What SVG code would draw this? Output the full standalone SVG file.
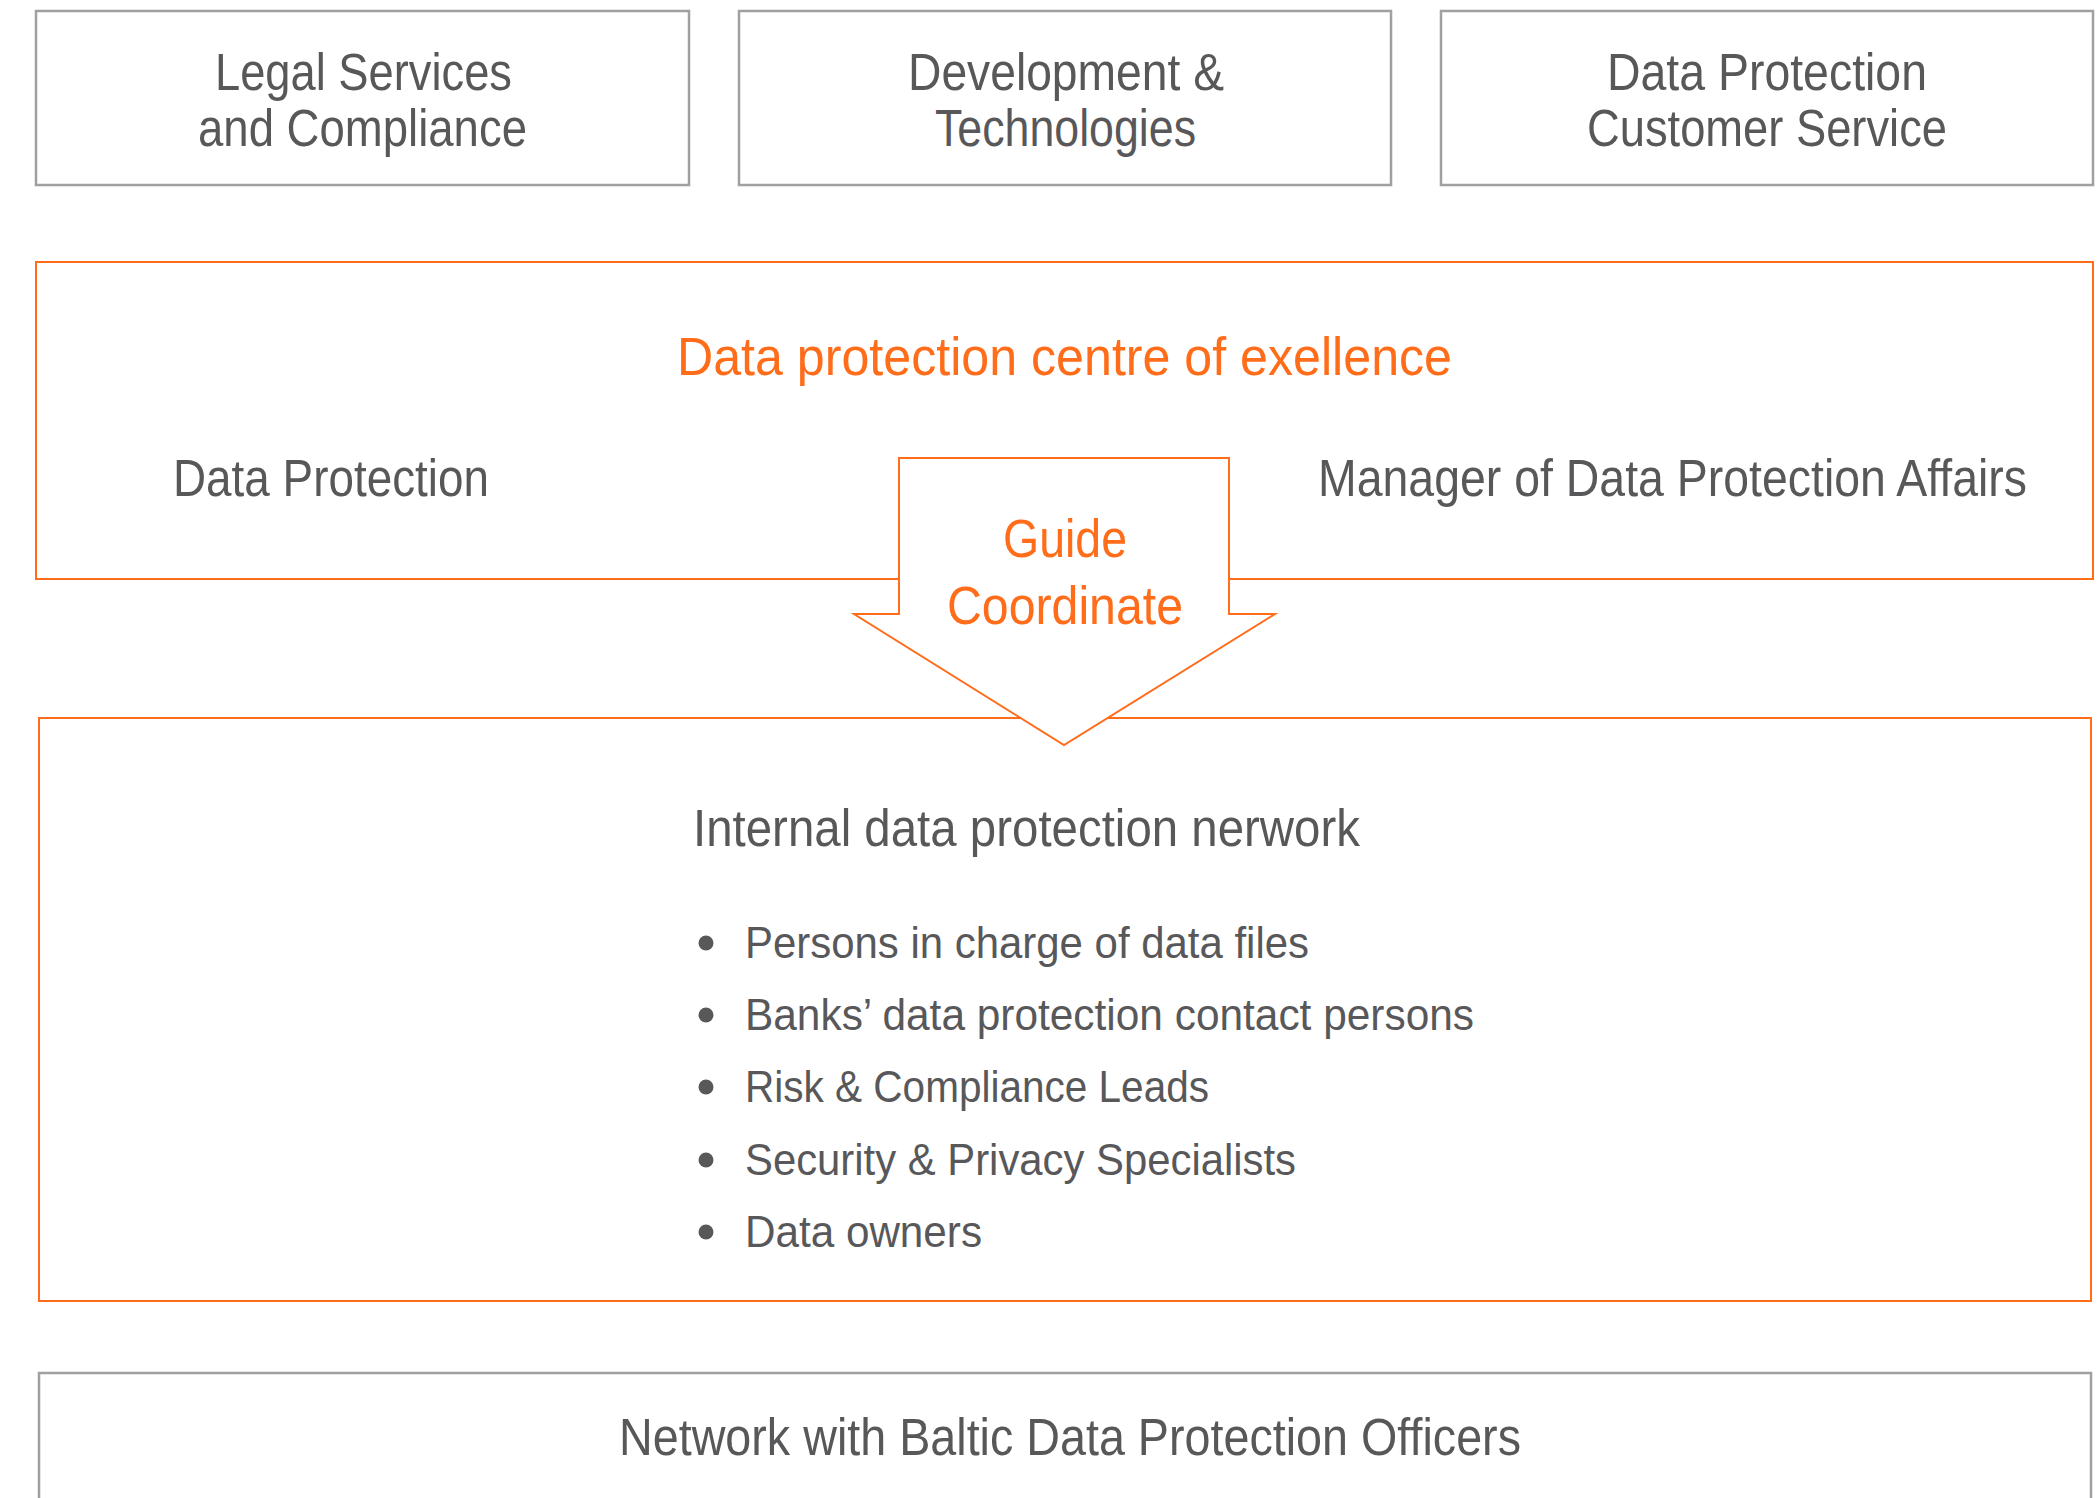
<svg xmlns="http://www.w3.org/2000/svg" width="2100" height="1498" viewBox="0 0 2100 1498">
  <style>
    .box { fill: #ffffff; stroke: #a0a0a0; stroke-width: 2.5; }
    .obox { fill: #ffffff; stroke: #ff6d1a; stroke-width: 2; }
    .t { font-family: "Liberation Sans", Arial, sans-serif; fill: #58585a; font-size: 51px; }
    .ot { font-family: "Liberation Sans", Arial, sans-serif; fill: #ff6d1a; font-size: 54px; }
    .bt { font-family: "Liberation Sans", Arial, sans-serif; fill: #58585a; font-size: 45px; }
    .dot { fill: #58585a; }
  </style>
  <rect x="0" y="0" width="2100" height="1498" fill="#ffffff"/>

  <g id="legal">
    <rect class="box" x="36" y="11" width="653" height="174"/>
    <text class="t" x="215" y="90" textLength="297" lengthAdjust="spacingAndGlyphs">Legal Services</text>
    <text class="t" x="198" y="146" textLength="329" lengthAdjust="spacingAndGlyphs">and Compliance</text>
  </g>

  <g id="development">
    <rect class="box" x="739" y="11" width="652" height="174"/>
    <text class="t" x="908" y="90" textLength="316" lengthAdjust="spacingAndGlyphs">Development &amp;</text>
    <text class="t" x="935" y="146" textLength="261" lengthAdjust="spacingAndGlyphs">Technologies</text>
  </g>

  <g id="customer-service">
    <rect class="box" x="1441" y="11" width="652" height="174"/>
    <text class="t" x="1607" y="90" textLength="320" lengthAdjust="spacingAndGlyphs">Data Protection</text>
    <text class="t" x="1587" y="146" textLength="360" lengthAdjust="spacingAndGlyphs">Customer Service</text>
  </g>

  <g id="centre-of-excellence">
    <rect class="obox" x="36" y="262" width="2057" height="317"/>
    <text class="ot" x="677" y="375" textLength="775" lengthAdjust="spacingAndGlyphs">Data protection centre of exellence</text>
    <text class="t" x="173" y="496" textLength="316" lengthAdjust="spacingAndGlyphs">Data Protection</text>
    <text class="t" x="1318" y="496" textLength="709" lengthAdjust="spacingAndGlyphs">Manager of Data Protection Affairs</text>
  </g>

  <g id="internal-network">
    <rect class="obox" x="39" y="718" width="2052" height="583"/>
    <text class="t" x="693" y="846" textLength="667" lengthAdjust="spacingAndGlyphs">Internal data protection nerwork</text>
    <circle class="dot" cx="706" cy="943" r="7.5"/>
    <text class="bt" x="745" y="958" textLength="564" lengthAdjust="spacingAndGlyphs">Persons in charge of data files</text>
    <circle class="dot" cx="706" cy="1015" r="7.5"/>
    <text class="bt" x="745" y="1030" textLength="729" lengthAdjust="spacingAndGlyphs">Banks’ data protection contact persons</text>
    <circle class="dot" cx="706" cy="1087" r="7.5"/>
    <text class="bt" x="745" y="1102" textLength="464" lengthAdjust="spacingAndGlyphs">Risk &amp; Compliance Leads</text>
    <circle class="dot" cx="706" cy="1160" r="7.5"/>
    <text class="bt" x="745" y="1175" textLength="551" lengthAdjust="spacingAndGlyphs">Security &amp; Privacy Specialists</text>
    <circle class="dot" cx="706" cy="1232" r="7.5"/>
    <text class="bt" x="745" y="1247" textLength="237" lengthAdjust="spacingAndGlyphs">Data owners</text>
  </g>

  <g id="baltic-network">
    <rect class="box" x="39" y="1373" width="2052" height="140"/>
    <text class="t" x="619" y="1455" textLength="902" lengthAdjust="spacingAndGlyphs">Network with Baltic Data Protection Officers</text>
  </g>

  <g id="connectors">
    <polygon class="obox" points="899,458 1229,458 1229,614 1275,614 1064,745 854,614 899,614"/>
    <text class="ot" x="1003" y="557" font-size="53" textLength="124" lengthAdjust="spacingAndGlyphs">Guide</text>
    <text class="ot" x="947" y="624" font-size="53" textLength="236" lengthAdjust="spacingAndGlyphs">Coordinate</text>
  </g>
</svg>
